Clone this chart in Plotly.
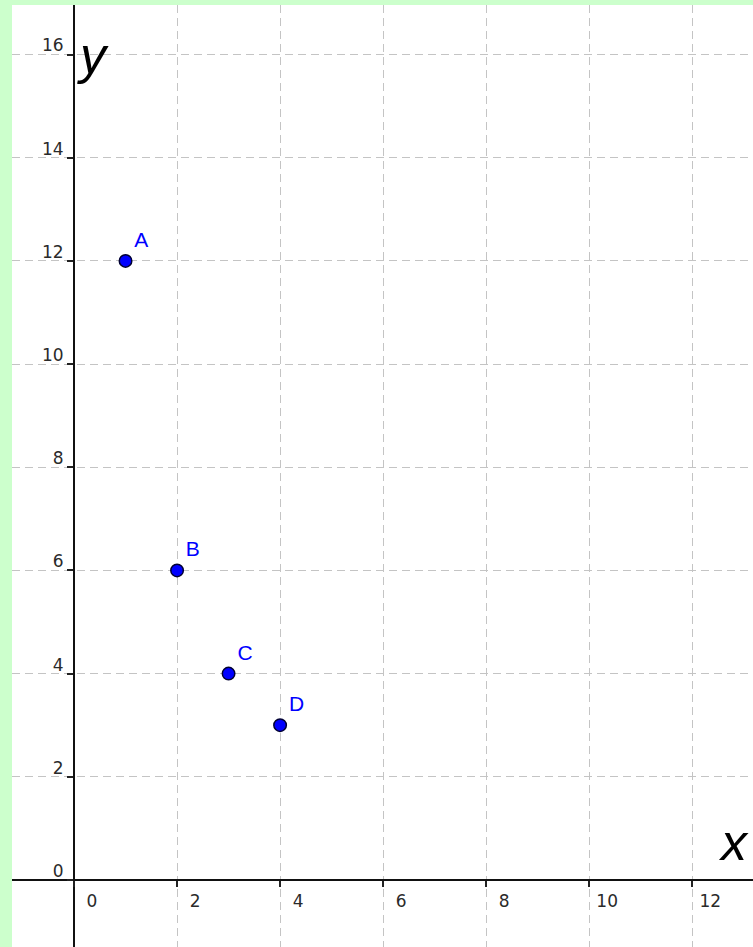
import plotly.graph_objects as go

# Data
point_names = ["A", "B", "C", "D"]
x_vals = [1, 2, 3, 4]
y_vals = [12, 6, 4, 3]

x_ticks = [0, 2, 4, 6, 8, 10, 12]
y_ticks = [0, 2, 4, 6, 8, 10, 12, 14, 16]

W, H = 753, 947
ml, mt = 12, 5

x_range = [-1.204, 13.18]
y_range = [-1.30, 16.96]

def xfrac(v):
    return (v - x_range[0]) / (x_range[1] - x_range[0])

def yfrac(v):
    return (v - y_range[0]) / (y_range[1] - y_range[0])

fig = go.Figure()
fig.add_trace(go.Scatter(
    x=x_vals, y=y_vals, mode="markers+text",
    text=point_names, textposition="top right",
    textfont=dict(family="Liberation Sans", size=21, color="#0000ff"),
    marker=dict(size=12.5, color="#0000ff", line=dict(color="#000033", width=1.5)),
    cliponaxis=False, showlegend=False, hoverinfo="skip",
))

tickfont = dict(family="DejaVu Sans", size=17, color="#2a2a2a")
grid = dict(showgrid=True, gridcolor="#c4c4c4", gridwidth=1.4, griddash="8px,5px",
            zeroline=False, showline=True, linecolor="#111111", linewidth=2,
            ticks="outside", ticklen=6, tickcolor="#222222", tickwidth=2,
            tickfont=tickfont, fixedrange=True)

fig.update_layout(
    width=W, height=H,
    margin=dict(l=ml, t=mt, r=0, b=0, pad=0),
    paper_bgcolor="#ccffcc", plot_bgcolor="#ffffff",
    xaxis=dict(range=x_range, tickmode="array", tickvals=x_ticks,
               ticktext=[str(t) for t in x_ticks],
               anchor="free", position=yfrac(0),
               ticklabelshift=18, ticklabelstandoff=0, **grid),
    yaxis=dict(range=y_range, tickmode="array", tickvals=y_ticks,
               ticktext=[str(t) for t in y_ticks],
               anchor="free", position=xfrac(0),
               ticklabelshift=-9, ticklabelstandoff=0, **grid),
    annotations=[
        dict(x=12.80, y=0.73, xref="x", yref="y", text="<i>x</i>", showarrow=False,
             font=dict(family="Liberation Sans", size=52, color="#000000")),
        dict(x=0.37, y=16.0, xref="x", yref="y", text="<i>y</i>", showarrow=False,
             font=dict(family="Liberation Sans", size=52, color="#000000")),
    ],
)

fig.write_html("out.html", config={"displayModeBar": False},
               post_script="document.body.style.margin='0';document.body.style.overflow='hidden';")
